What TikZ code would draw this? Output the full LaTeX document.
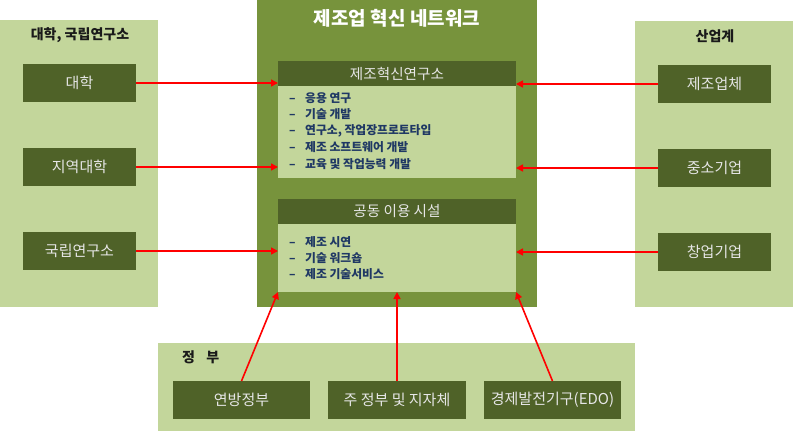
\documentclass[tikz,border=0pt]{standalone}
\usepackage{fontspec}
\setmainfont{Noto Sans CJK KR}
\usetikzlibrary{arrows.meta}
\definecolor{olivebg}{HTML}{77933C}
\definecolor{lightg}{HTML}{C3D69B}
\definecolor{darkg}{HTML}{4F6228}
\definecolor{navy}{HTML}{1F3864}
\definecolor{boxtxt}{HTML}{E6E6E6}
\definecolor{ttl}{HTML}{1A1A1A}
\begin{document}
\begin{tikzpicture}[x=1pt,y=-1pt,
  area/.style={fill=lightg, draw=none, inner sep=0pt, outer sep=0pt, anchor=north west},
  dbox/.style={fill=darkg, text=boxtxt, minimum width=113pt, minimum height=38pt, inner sep=0pt, outer sep=0pt, anchor=north west, font=\fontsize{15}{17}\selectfont},
  hdr/.style={fill=darkg, text=boxtxt, minimum width=238pt, minimum height=25pt, inner sep=0pt, outer sep=0pt, anchor=north west, font=\fontsize{14.6}{16}\selectfont},
  bodybox/.style={fill=lightg, minimum width=238pt, inner sep=0pt, outer sep=0pt, anchor=north west},
  item/.style={text=navy, anchor=west, inner sep=0pt, font=\fontsize{11.8}{13}\selectfont\bfseries},
  ptitle/.style={text=ttl, inner sep=0pt, font=\fontsize{14}{16}\selectfont\bfseries},
  arr/.style={draw=red, line width=1.6pt, -{Triangle[length=7pt,width=7pt]}}
]
\useasboundingbox (0,0) rectangle (793,431);
% panels
\node[area, minimum width=158pt, minimum height=287pt] (lp) at (0,20) {};
\node[area, minimum width=158pt, minimum height=286pt] (rp) at (635,21) {};
\node[area, minimum width=477pt, minimum height=88pt] (bp) at (158,343) {};
\node[fill=olivebg, inner sep=0pt, outer sep=0pt, anchor=north west, minimum width=280pt, minimum height=307pt] (net) at (257,0) {};
% titles
\node[text=white, inner sep=0pt, font=\fontsize{19}{22}\selectfont\bfseries] (nettitle) at (397,18) {제조업 혁신 네트워크};
\node[ptitle] (lt) at (80,35) {대학, 국립연구소};
\node[ptitle] (rt) at (715,36) {산업계};
\node[ptitle, anchor=west] (bt) at (182,357) {정\hspace{0.8em}부};
% left boxes
\node[dbox] (b1) at (23,64) {대학};
\node[dbox] (b2) at (23,148) {지역대학};
\node[dbox] (b3) at (23,232) {국립연구소};
% right boxes
\node[dbox] (r1) at (658,65) {제조업체};
\node[dbox] (r2) at (658,149) {중소기업};
\node[dbox] (r3) at (658,233) {창업기업};
% bottom boxes
\node[dbox, minimum width=137pt] (g1) at (173,381) {연방정부};
\node[dbox, minimum width=138pt] (g2) at (328,381) {주 정부 및 지자체};
\node[dbox, minimum width=137pt] (g3) at (484,381) {경제발전기구(EDO)};
% inner boxes
\node[hdr] (h1) at (278,61) {제조혁신연구소};
\node[bodybox, minimum height=92pt] (body1) at (278,86) {};
\node[hdr] (h2) at (278,199) {공동 이용 시설};
\node[bodybox, minimum height=68pt] (body2) at (278,224) {};
% items
\foreach \t [count=\i] in {응용 연구, 기술 개발, {연구소, 작업장프로토타입}, 제조 소프트웨어 개발, 교육 및 작업능력 개발}
  \node[item] (ia\i) at (289,{81.5+16.5*\i}) {\makebox[16pt][l]{–}\t};
\foreach \t [count=\i] in {제조 시연, 기술 워크숍, 제조 기술서비스}
  \node[item] (ib\i) at (289,{226+16*\i}) {\makebox[16pt][l]{–}\t};
% arrows
\draw[arr] (b1.east) -- (b1.east -| h1.west);
\draw[arr] (b2.east) -- (b2.east -| body1.west);
\draw[arr] (b3.east) -- (b3.east -| body2.west);
\draw[arr] (r1.west) -- (r1.west -| h1.east);
\draw[arr] (r2.west) -- (r2.west -| body1.east);
\draw[arr] (r3.west) -- (r3.west -| body2.east);
\draw[arr] (g1.north) -- (body2.south west);
\draw[arr] (g2.north) -- (g2.north |- body2.south);
\draw[arr] (g3.north) -- (body2.south east);
\end{tikzpicture}
\end{document}
